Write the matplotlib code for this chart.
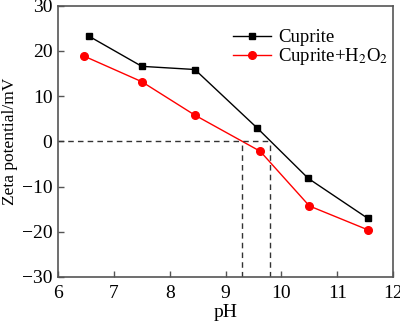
import matplotlib
matplotlib.use("Agg")
import matplotlib.pyplot as plt

plt.rcParams['font.family'] = ['Liberation Serif', 'DejaVu Serif']
plt.rcParams['mathtext.fontset'] = 'stix'

# zeta potential vs pH
ph_cuprite = [6.55, 7.5, 8.45, 9.57, 10.48, 11.54]
zeta_cuprite = [23.3, 16.6, 15.9, 2.9, -8.2, -17.0]

ph_h2o2 = [6.46, 7.5, 8.45, 9.62, 10.5, 11.55]
zeta_h2o2 = [18.9, 13.2, 5.8, -2.2, -14.3, -19.6]

# isoelectric points
iep = [9.3, 9.8]

fig = plt.figure(figsize=(4.0, 3.22), dpi=100)
ax = fig.add_axes([0.145, 0.14, 0.838, 0.842])

ax.plot(ph_cuprite, zeta_cuprite, color='black', marker='s', markersize=5,
        linewidth=1, label='Cuprite')
ax.plot(ph_h2o2, zeta_h2o2, color='red', marker='o', markersize=5.5,
        linewidth=1, label='Cuprite+H$_2$O$_2$')

ax.plot([6, max(iep)], [0, 0], color='#333333', linestyle=(0, (4, 3)), linewidth=1)
for x in iep:
    ax.plot([x, x], [-30, 0], color='#333333', linestyle=(0, (4, 3)), linewidth=1)

ax.set_xlim(6, 12)
ax.set_ylim(-30, 30)
ax.set_xticks(range(6, 13))
ax.set_yticks(range(-30, 31, 10))
ax.set_xticklabels([str(v) for v in range(6, 13)])
ax.set_yticklabels([str(v).replace('-', '\u2212') for v in range(-30, 31, 10)])
ax.tick_params(direction='in', length=4, width=1, labelsize=14, color='#555555', pad=4)
ax.tick_params(axis='x', pad=6)

for s in ax.spines.values():
    s.set_color('#555555')
    s.set_linewidth(1.2)

ax.set_xlabel('pH', fontsize=14, labelpad=1)
ax.set_ylabel('Zeta potential/mV', fontsize=12.5, labelpad=3)

ax.legend(loc='upper right', bbox_to_anchor=(1.02, 0.955), frameon=False,
          fontsize=13.5, handlelength=2.0, handletextpad=0.4,
          labelspacing=0.0, borderaxespad=0.2)

fig.savefig('out.png', dpi=100)
